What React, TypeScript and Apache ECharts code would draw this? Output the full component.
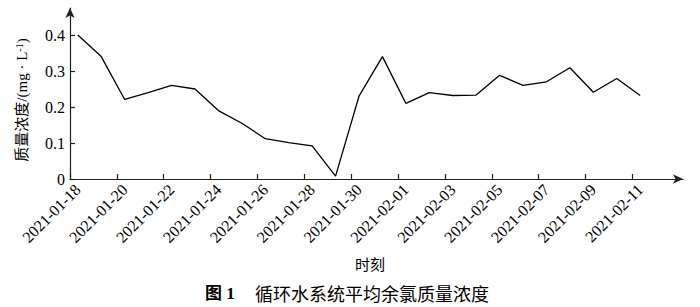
import React, { useEffect, useRef } from "react";
import * as echarts from "echarts";

const DATES = [
  "2021-01-18", "2021-01-19", "2021-01-20", "2021-01-21", "2021-01-22",
  "2021-01-23", "2021-01-24", "2021-01-25", "2021-01-26", "2021-01-27",
  "2021-01-28", "2021-01-29", "2021-01-30", "2021-01-31", "2021-02-01",
  "2021-02-02", "2021-02-03", "2021-02-04", "2021-02-05", "2021-02-06",
  "2021-02-07", "2021-02-08", "2021-02-09", "2021-02-10", "2021-02-11",
];
const VALUES = [
  0.4, 0.34, 0.221, 0.24, 0.26,
  0.25, 0.19, 0.155, 0.112, 0.101,
  0.092, 0.008, 0.23, 0.34, 0.21,
  0.24, 0.232, 0.233, 0.288, 0.26,
  0.27, 0.309, 0.241, 0.279, 0.232,
];
const X_TICK_LABELS = [
  "2021-01-18", "2021-01-20", "2021-01-22", "2021-01-24", "2021-01-26",
  "2021-01-28", "2021-01-30", "2021-02-01", "2021-02-03", "2021-02-05",
  "2021-02-07", "2021-02-09", "2021-02-11",
];
const Y_TICKS = [0, 0.1, 0.2, 0.3, 0.4];
const SAMPLE_HOUR = 8; // samples taken at 08:00 each day
const START = "2021-01-18";

const SERIF = "Liberation Serif, Noto Sans CJK SC, serif";
const CJK = "Noto Sans CJK SC, sans-serif";

function toUTC(d: string) {
  const [y, m, dd] = d.split("-").map(Number);
  return Date.UTC(y, m - 1, dd);
}
function dayIndex(d: string) {
  return (toUTC(d) - toUTC(START)) / 86400000;
}
function indexToDate(v: number) {
  const t = new Date(toUTC(START) + Math.floor(v + 1e-6) * 86400000);
  const p = (n: number) => String(n).padStart(2, "0");
  return `${t.getUTCFullYear()}-${p(t.getUTCMonth() + 1)}-${p(t.getUTCDate())}`;
}

export default function App() {
  const ref = useRef<HTMLDivElement>(null);
  useEffect(() => {
    if (!ref.current) return;
    const chart = echarts.init(ref.current, undefined, { renderer: "svg" });
    const data = DATES.map((d, i) => [dayIndex(d) + SAMPLE_HOUR / 24, VALUES[i]]);
    chart.setOption({
      animation: false,
      backgroundColor: "#fff",
      grid: { left: 70, right: 17, top: 8, bottom: 128, containLabel: false },
      xAxis: {
        type: "value",
        min: 0,
        max: 26.16,
        axisLine: {
          show: true,
          symbol: ["none", "arrow"],
          symbolSize: [7, 10],
          lineStyle: { color: "#222", width: 1.2 },
        },
        axisTick: {
          show: true,
          inside: true,
          length: 5,
          customValues: X_TICK_LABELS.map(dayIndex),
          lineStyle: { color: "#222", width: 1.2 },
        },
        axisLabel: {
          show: true,
          rotate: 45,
          margin: 8,
          color: "#000",
          fontFamily: SERIF,
          fontSize: 16,
          customValues: X_TICK_LABELS.map((d) => dayIndex(d) + SAMPLE_HOUR / 24),
          formatter: (v: number) => indexToDate(v),
        },
        splitLine: { show: false },
      },
      yAxis: {
        type: "value",
        min: 0,
        max: 0.475,
        axisLine: {
          show: true,
          symbol: ["none", "arrow"],
          symbolSize: [7, 10],
          lineStyle: { color: "#222", width: 1.2 },
        },
        axisTick: {
          show: true,
          inside: true,
          length: 5,
          customValues: Y_TICKS,
          lineStyle: { color: "#222", width: 1.2 },
        },
        axisLabel: {
          show: true,
          margin: 5,
          color: "#000",
          fontFamily: SERIF,
          fontSize: 16,
          customValues: Y_TICKS,
          formatter: (v: number) => (v === 0 ? "0" : v.toFixed(1)),
        },
        splitLine: { show: false },
      },
      series: [
        {
          type: "line",
          data,
          showSymbol: false,
          symbol: "none",
          lineStyle: { color: "#000", width: 1.3 },
        },
      ],
      graphic: [
        {
          type: "text",
          x: 22,
          y: 100,
          rotation: Math.PI / 2,
          style: {
            text: "质量浓度/(mg · L{sup|-1})",
            align: "center",
            verticalAlign: "middle",
            fontFamily: SERIF,
            fontSize: 15,
            fill: "#000",
            rich: {
              sup: { fontFamily: SERIF, fontSize: 10, verticalAlign: "top", padding: [0, 0, 6, 0] },
            },
          } as any,
        },
        {
          type: "text",
          x: 370,
          y: 263,
          style: {
            text: "时刻",
            align: "center",
            verticalAlign: "middle",
            fontFamily: CJK,
            fontSize: 15,
            fill: "#000",
          },
        },
        {
          type: "text",
          x: 205,
          y: 293,
          style: {
            text: "图 1",
            align: "left",
            verticalAlign: "middle",
            fontFamily: SERIF,
            fontWeight: "bold",
            fontSize: 17,
            fill: "#000",
          },
        },
        {
          type: "text",
          x: 255,
          y: 293,
          style: {
            text: "循环水系统平均余氯质量浓度",
            align: "left",
            verticalAlign: "middle",
            fontFamily: CJK,
            fontSize: 18,
            fill: "#000",
          },
        },
      ],
    });
    return () => chart.dispose();
  }, []);
  return (
    <div
      ref={ref}
      style={{ position: "fixed", left: 0, top: 0, width: 700, height: 307 }}
    />
  );
}
